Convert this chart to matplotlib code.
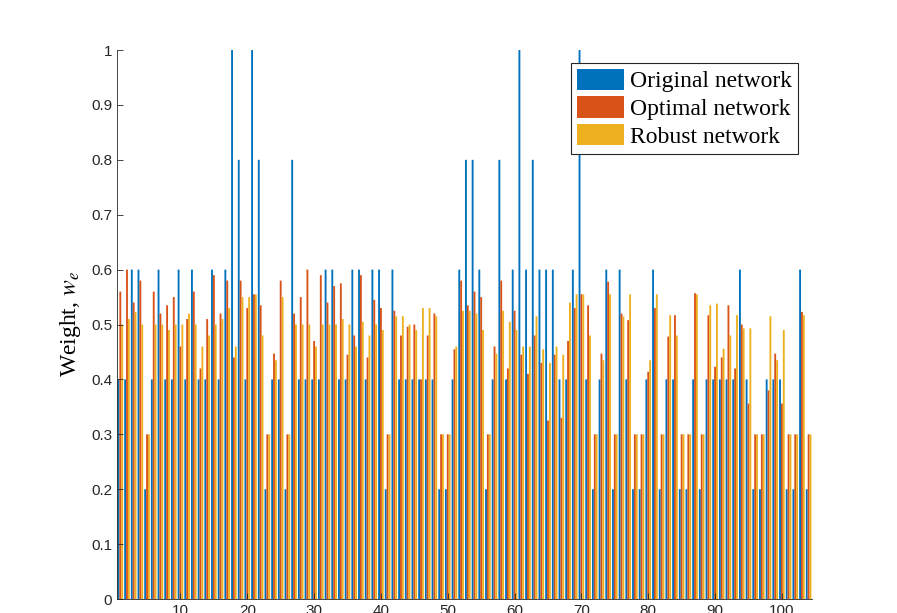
import numpy as np
import matplotlib.pyplot as plt

plt.rcParams['mathtext.fontset'] = 'stix'

# edge index 1..104
original = [0.4, 0.4, 0.6, 0.6, 0.2, 0.4, 0.6, 0.4, 0.4, 0.6,
            0.4, 0.6, 0.4, 0.4, 0.6, 0.4, 0.6, 1.0, 0.8, 0.4,
            1.0, 0.8, 0.2, 0.4, 0.4, 0.2, 0.8, 0.4, 0.4, 0.4,
            0.4, 0.6, 0.6, 0.4, 0.4, 0.6, 0.6, 0.4, 0.6, 0.6,
            0.2, 0.6, 0.4, 0.4, 0.4, 0.4, 0.4, 0.4, 0.2, 0.2,
            0.4, 0.6, 0.8, 0.8, 0.6, 0.2, 0.4, 0.8, 0.4, 0.6,
            1.0, 0.6, 0.8, 0.6, 0.6, 0.6, 0.4, 0.4, 0.6, 1.0,
            0.4, 0.2, 0.4, 0.6, 0.2, 0.6, 0.4, 0.2, 0.2, 0.4,
            0.6, 0.2, 0.4, 0.4, 0.2, 0.2, 0.4, 0.2, 0.4, 0.4,
            0.4, 0.4, 0.4, 0.6, 0.4, 0.2, 0.2, 0.4, 0.4, 0.4,
            0.2, 0.2, 0.6, 0.2]
optimal = [0.56, 0.60, 0.54, 0.58, 0.30, 0.56, 0.52, 0.535, 0.55, 0.46,
           0.51, 0.56, 0.42, 0.51, 0.59, 0.52, 0.58, 0.44, 0.58, 0.53,
           0.555, 0.535, 0.30, 0.447, 0.58, 0.30, 0.52, 0.55, 0.60, 0.47,
           0.59, 0.54, 0.57, 0.575, 0.445, 0.48, 0.59, 0.44, 0.545, 0.53,
           0.30, 0.525, 0.48, 0.496, 0.50, 0.40, 0.48, 0.52, 0.30, 0.30,
           0.455, 0.58, 0.535, 0.56, 0.55, 0.30, 0.46, 0.58, 0.42, 0.525,
           0.445, 0.41, 0.48, 0.43, 0.325, 0.445, 0.33, 0.47, 0.53, 0.555,
           0.535, 0.30, 0.447, 0.578, 0.30, 0.52, 0.508, 0.30, 0.30, 0.414,
           0.53, 0.30, 0.478, 0.517, 0.30, 0.30, 0.557, 0.30, 0.517, 0.423,
           0.44, 0.535, 0.42, 0.50, 0.356, 0.30, 0.30, 0.38, 0.447, 0.356,
           0.30, 0.30, 0.523, 0.30]
robust = [0.50, 0.51, 0.523, 0.50, 0.30, 0.50, 0.50, 0.49, 0.50, 0.50,
          0.52, 0.50, 0.46, 0.48, 0.50, 0.51, 0.53, 0.46, 0.55, 0.55,
          0.555, 0.48, 0.30, 0.435, 0.55, 0.30, 0.50, 0.50, 0.50, 0.46,
          0.50, 0.50, 0.50, 0.51, 0.50, 0.46, 0.505, 0.48, 0.50, 0.49,
          0.30, 0.515, 0.515, 0.50, 0.49, 0.53, 0.53, 0.515, 0.30, 0.30,
          0.46, 0.525, 0.525, 0.52, 0.49, 0.30, 0.447, 0.525, 0.505, 0.49,
          0.46, 0.46, 0.515, 0.455, 0.43, 0.46, 0.445, 0.54, 0.555, 0.555,
          0.48, 0.30, 0.435, 0.555, 0.30, 0.515, 0.555, 0.30, 0.30, 0.435,
          0.555, 0.30, 0.517, 0.48, 0.30, 0.30, 0.555, 0.30, 0.535, 0.538,
          0.456, 0.48, 0.517, 0.493, 0.493, 0.30, 0.30, 0.515, 0.435, 0.49,
          0.30, 0.30, 0.517, 0.30]
labels = ['Original network', 'Optimal network', 'Robust network']

colors = ['#0072BD', '#D95319', '#EDB120']

x = np.arange(1, len(original) + 1)
w = 0.28

fig = plt.figure(figsize=(8.97, 6.13), dpi=100)
ax = fig.add_axes([0.1304, 0.0228, 0.7748, 0.8956])

for off, vals, c, lab in zip([-w, 0, w], [original, optimal, robust], colors, labels):
    bars = ax.bar(x + off, vals, w, color=c, label=lab, linewidth=0)
    for b in bars:
        b.set_snap(False)

ax.set_xlim(0.5, 104.5)
ax.set_ylim(0, 1)
ax.set_yticks(np.arange(0, 1.01, 0.1))
ax.set_yticklabels(['0', '0.1', '0.2', '0.3', '0.4', '0.5', '0.6', '0.7', '0.8', '0.9', '1'])
ax.set_xticks(np.arange(10, 101, 10))
ax.tick_params(direction='in', length=4, width=0.6, labelsize=11, colors='#262626')
for lab in ax.get_xticklabels() + ax.get_yticklabels():
    lab.set_family('Liberation Sans')
ax.spines['top'].set_visible(False)
ax.spines['right'].set_visible(False)
ax.spines['left'].set_color('#262626')
ax.spines['bottom'].set_color('#262626')
ax.spines['left'].set_linewidth(0.6)
ax.spines['bottom'].set_linewidth(0.6)

ax.set_ylabel('Weight, $w_e$', family='Liberation Serif', fontsize=17, labelpad=6)

leg = ax.legend(loc='upper right', bbox_to_anchor=(0.98, 0.977),
                prop={'family': 'Liberation Serif', 'size': 17},
                fancybox=False, edgecolor='#262626', framealpha=1,
                handlelength=2.0, handleheight=1.0, handletextpad=0.25,
                labelspacing=0.18, borderpad=0.25, borderaxespad=0)
leg.get_frame().set_linewidth(0.8)

fig.savefig('out.png', dpi=100)
